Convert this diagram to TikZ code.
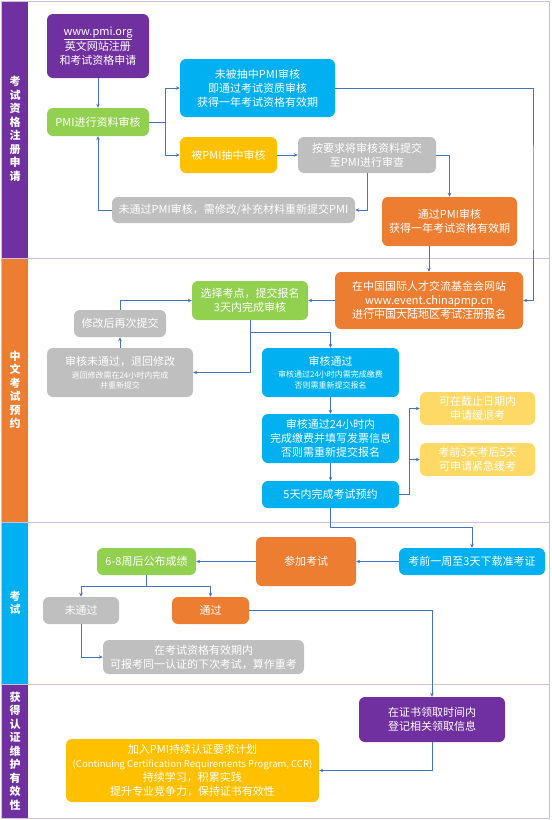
\documentclass[tikz,border=0pt]{standalone}
\usepackage{fontspec}
\setmainfont{Noto Sans CJK SC}
\usetikzlibrary{arrows.meta,calc}
\definecolor{cpurple}{HTML}{7030A0}
\definecolor{corange}{HTML}{ED7D31}
\definecolor{cblue}{HTML}{00B0F0}
\definecolor{cgreen}{HTML}{92D050}
\definecolor{cyellow}{HTML}{FFC000}
\definecolor{cltyellow}{HTML}{FFD966}
\definecolor{cgray}{HTML}{BFBFBF}
\definecolor{carrow}{HTML}{4472C4}
\definecolor{clane}{HTML}{CDBFE0}
\newcommand{\sml}{\fontsize{8}{10}\selectfont}
\newcommand{\lat}{\fontsize{9.5}{14}\selectfont}
\begin{document}
\begin{tikzpicture}[x=1pt,y=-1pt,
  box/.style={rounded corners=6pt, text=white, align=center, inner sep=0pt,
    font=\fontsize{11}{14}\selectfont},
  lanelab/.style={text=white, align=center, inner sep=0pt,
    font=\bfseries\fontsize{11}{13.5}\selectfont},
  laneline/.style={draw=clane, line width=1pt},
  arr/.style={draw=carrow, line width=0.8pt, -{Stealth[length=4pt,width=3.5pt]}}
]
\useasboundingbox (0,0) rectangle (552,820);
% lanes
\fill[cpurple] (2,1) rectangle (28,258);
\fill[corange] (2,258) rectangle (28,522);
\fill[cblue] (2,522) rectangle (28,684);
\fill[cpurple] (2,684) rectangle (28,818);
\draw[laneline] (1,1) rectangle (549,818);
\draw[laneline] (1,258) -- (549,258);
\draw[laneline] (1,522) -- (549,522);
\draw[laneline] (1,684) -- (549,684);
\node[lanelab] (l1) at (15,129) {考\\试\\资\\格\\注\\册\\申\\请};
\node[lanelab] (l2) at (15,390) {中\\文\\考\\试\\预\\约};
\node[lanelab] (l3) at (15,603) {考\\试};
\node[lanelab] (l4) at (15,751) {获\\得\\认\\证\\维\\护\\有\\效\\性};

% lane 1
\node[box, fill=cpurple, minimum width=102pt, minimum height=64pt] (n1) at (98,46)
  {\underline{www.pmi.org}\\英文网站注册\\和考试资格申请};
\node[box, fill=cgreen, minimum width=102pt, minimum height=28pt] (n2) at (98,122)
  {PMI进行资料审核};
\node[box, fill=cblue, minimum width=155pt, minimum height=58pt] (n3) at (257.5,88)
  {未被抽中PMI审核\\即通过考试资质审核\\获得一年考试资格有效期};
\node[box, fill=cyellow, minimum width=97pt, minimum height=36pt] (n4) at (228.5,155)
  {被PMI抽中审核};
\node[box, fill=cgray, minimum width=138pt, minimum height=36pt] (n5) at (367,155)
  {按要求将审核资料提交\\至PMI进行审查};
\node[box, fill=cgray, minimum width=243pt, minimum height=26pt] (n6) at (233.5,210)
  {未通过PMI审核，需修改/补充材料重新提交PMI};
\node[box, fill=corange, minimum width=135pt, minimum height=49pt] (n7) at (449.5,221.5)
  {通过PMI审核\\获得一年考试资格有效期};

% lane 2
\node[box, fill=corange, minimum width=188pt, minimum height=57pt] (n8) at (429,300.5)
  {在中国国际人才交流基金会网站\\\underline{www.event.chinapmp.cn}\\进行中国大陆地区考试注册报名};
\node[box, fill=cgreen, minimum width=116pt, minimum height=39pt] (n9) at (250,300.5)
  {选择考点，提交报名\\3天内完成审核};
\node[box, fill=cgray, minimum width=92pt, minimum height=27pt] (n10) at (120,323.5)
  {修改后再次提交};
\node[box, fill=cgray, minimum width=146pt, minimum height=49pt] (n11) at (120,372.5)
  {审核未通过，退回修改\\[-1pt]{\sml 退回修改需在24小时内完成}\\[-4pt]{\sml 并重新提交}};
\node[box, fill=cblue, minimum width=137pt, minimum height=49pt] (n12) at (330.5,372.5)
  {审核通过\\[-2pt]{\sml 审核通过24小时内需完成缴费}\\[-3pt]{\sml 否则需重新提交报名}};
\node[box, fill=cblue, minimum width=137pt, minimum height=49pt] (n13) at (330.5,438.5)
  {审核通过24小时内\\完成缴费并填写发票信息\\否则需重新提交报名};
\node[box, fill=cblue, minimum width=137pt, minimum height=27pt] (n14) at (330.5,494.5)
  {5天内完成考试预约};
\node[box, fill=cltyellow, minimum width=115pt, minimum height=33pt] (n15) at (477.5,408.5)
  {可在截止日期内\\申请缓退考};
\node[box, fill=cltyellow, minimum width=115pt, minimum height=33pt] (n16) at (477.5,459.5)
  {考前3天考后5天\\可申请紧急缓考};

% lane 3
\node[box, fill=cblue, minimum width=146pt, minimum height=27pt] (n17) at (472,561.5)
  {考前一周至3天下载准考证};
\node[box, fill=corange, minimum width=100pt, minimum height=49pt] (n23) at (306,561.5)
  {参加考试};
\node[box, fill=cgreen, minimum width=99pt, minimum height=27pt] (n19) at (146.5,561.5)
  {6-8周后公布成绩};
\node[box, fill=cgray, minimum width=76pt, minimum height=27pt] (n20) at (81,610.5)
  {未通过};
\node[box, fill=corange, minimum width=77pt, minimum height=27pt] (n21) at (210.5,610.5)
  {通过};
\node[box, fill=cgray, minimum width=201pt, minimum height=34pt] (n22) at (203.5,657)
  {在考试资格有效期内\\可报考同一认证的下次考试，算作重考};

% lane 4
\node[box, fill=cpurple, minimum width=146pt, minimum height=45pt] (n18) at (432,719.5)
  {在证书领取时间内\\登记相关领取信息};
\node[box, fill=cyellow, minimum width=253pt, minimum height=63pt] (n24) at (192.5,770.5)
  {加入PMI持续认证要求计划\\{\lat (Continuing Certification Requirements Program, CCR)}\\持续学习，积累实践\\提升专业竞争力，保持证书有效性};

\coordinate (r1) at (533,200);

% connectors lane 1
\draw[arr] (n1) -- (n2);
\draw[arr] (n2.east) -- ++(16,0) |- (n3.west);
\draw[arr] (n2.east) -- ++(16,0) |- (n4.west);
\draw[arr] (n4) -- (n5);
\draw[arr] (n5.east) -| (n7.north);
\draw[arr] (n5.south) |- (n6.east);
\draw[arr] (n6.west) -| (n2.south);
\draw[arr] (n3.east) -| (r1) |- (n8.east);
\draw[arr] (n7.south -| n8.north) -- (n8.north);

% connectors lane 2
\draw[arr] (n8.west) -- (n9.east);
\draw[arr] (n11) -- (n10);
\draw[arr] (n10.north) |- (n9.west);
\draw[arr] (n9.south) |- (n11.east);
\draw[arr] (n9.south) -- ++(0,12.5) -| (n12.north);
\draw[arr] (n12) -- (n13);
\draw[arr] (n13) -- (n14);
\draw[arr] (n14.east) -- ++(10,0) |- (n15.west);
\draw[arr] (n14.east) -- ++(10,0) |- (n16.west);
\draw[arr] (n14.south) -- ++(0,19) -| (n17.north);

% connectors lane 3
\draw[arr] (n17) -- (n23);
\draw[arr] (n23) -- (n19);
\draw[arr] (n19.south) -- ++(0,11) -| (n20.north);
\draw[arr] (n19.south) -- ++(0,11) -| (n21.north);
\draw[arr] (n20.south) |- (n22.west);
\draw[arr] (n21.east) -| (n18.north);

% connectors lane 4
\draw[arr] (n18.south) |- (n24.east);
\end{tikzpicture}
\end{document}
